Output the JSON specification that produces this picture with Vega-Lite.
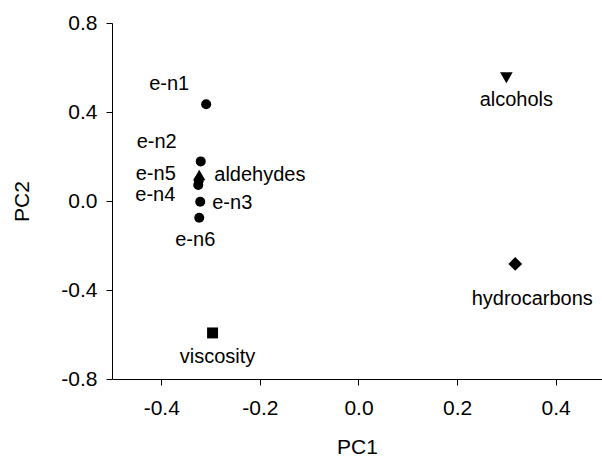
{
  "$schema": "https://vega.github.io/schema/vega-lite/v6.json",
  "width": 490,
  "height": 356,
  "autosize": {"type": "none"},
  "padding": {"left": 112, "top": 23, "right": 0, "bottom": 85},
  "background": "white",
  "config": {
    "view": {"stroke": null},
    "font": "Liberation Sans",
    "axis": {
      "grid": false,
      "domainColor": "black",
      "tickColor": "black",
      "labelColor": "black",
      "titleColor": "black",
      "labelFont": "Liberation Sans",
      "titleFont": "Liberation Sans",
      "labelFontSize": 21,
      "titleFontSize": 21,
      "titleFontWeight": "normal",
      "tickSize": 6,
      "domainWidth": 1,
      "tickWidth": 1
    }
  },
  "data": {
    "values": [
      {"label": "e-n1", "group": "e-n", "PC1": -0.309, "PC2": 0.435},
      {"label": "e-n2", "group": "e-n", "PC1": -0.320, "PC2": 0.178},
      {"label": "e-n5", "group": "e-n", "PC1": -0.324, "PC2": 0.092},
      {"label": "e-n4", "group": "e-n", "PC1": -0.325, "PC2": 0.072},
      {"label": "aldehydes", "group": "aldehydes", "PC1": -0.323, "PC2": 0.117},
      {"label": "e-n3", "group": "e-n", "PC1": -0.321, "PC2": -0.003},
      {"label": "e-n6", "group": "e-n", "PC1": -0.323, "PC2": -0.075},
      {"label": "alcohols", "group": "alcohols", "PC1": 0.300, "PC2": 0.554},
      {"label": "hydrocarbons", "group": "hydrocarbons", "PC1": 0.318, "PC2": -0.283},
      {"label": "viscosity", "group": "viscosity", "PC1": -0.296, "PC2": -0.593}
    ]
  },
  "encoding": {
    "x": {
      "field": "PC1", "type": "quantitative",
      "scale": {"domain": [-0.5, 0.494], "nice": false, "zero": false},
      "axis": {"values": [-0.4, -0.2, 0.0, 0.2, 0.4], "labelExpr": "replace(format(datum.value, '.1f'), '\u2212', '-')", "labelPadding": 12, "titlePadding": 18, "title": "PC1"}
    },
    "y": {
      "field": "PC2", "type": "quantitative",
      "scale": {"domain": [-0.8, 0.8], "nice": false, "zero": false},
      "axis": {"values": [-0.8, -0.4, 0.0, 0.4, 0.8], "labelExpr": "replace(format(datum.value, '.1f'), '\u2212', '-')", "labelPadding": 9, "titleX": -80, "titleBaseline": "bottom", "title": "PC2"}
    }
  },
  "layer": [
    {
      "mark": {"type": "point", "filled": true, "opacity": 1, "color": "black"},
      "encoding": {
        "shape": {
          "field": "group", "type": "nominal", "legend": null,
          "scale": {"domain": ["e-n", "aldehydes", "alcohols", "hydrocarbons", "viscosity"], "range": ["circle", "triangle-up", "triangle-down", "diamond", "square"]}
        },
        "size": {
          "field": "group", "type": "nominal", "legend": null,
          "scale": {"type": "ordinal", "domain": ["e-n", "aldehydes", "alcohols", "hydrocarbons", "viscosity"], "range": [100, 150, 160, 190, 120]}
        }
      }
    },
    {"transform": [{"filter": "datum.label == 'e-n1'"}], "mark": {"type": "text", "fontSize": 20, "color": "black", "align": "center", "baseline": "middle", "dx": -37, "dy": -20}, "encoding": {"text": {"field": "label"}}},
    {"transform": [{"filter": "datum.label == 'e-n2'"}], "mark": {"type": "text", "fontSize": 20, "color": "black", "align": "center", "baseline": "middle", "dx": -44, "dy": -19}, "encoding": {"text": {"field": "label"}}},
    {"transform": [{"filter": "datum.label == 'e-n5'"}], "mark": {"type": "text", "fontSize": 20, "color": "black", "align": "center", "baseline": "middle", "dx": -43, "dy": -7}, "encoding": {"text": {"field": "label"}}},
    {"transform": [{"filter": "datum.label == 'e-n4'"}], "mark": {"type": "text", "fontSize": 20, "color": "black", "align": "center", "baseline": "middle", "dx": -43, "dy": 10}, "encoding": {"text": {"field": "label"}}},
    {"transform": [{"filter": "datum.label == 'aldehydes'"}], "mark": {"type": "text", "fontSize": 20, "color": "black", "align": "left", "baseline": "middle", "dx": 15, "dy": 0}, "encoding": {"text": {"field": "label"}}},
    {"transform": [{"filter": "datum.label == 'e-n3'"}], "mark": {"type": "text", "fontSize": 20, "color": "black", "align": "left", "baseline": "middle", "dx": 12, "dy": 1}, "encoding": {"text": {"field": "label"}}},
    {"transform": [{"filter": "datum.label == 'e-n6'"}], "mark": {"type": "text", "fontSize": 20, "color": "black", "align": "center", "baseline": "middle", "dx": -4, "dy": 22}, "encoding": {"text": {"field": "label"}}},
    {"transform": [{"filter": "datum.label == 'alcohols'"}], "mark": {"type": "text", "fontSize": 20, "color": "black", "align": "center", "baseline": "middle", "dx": 10, "dy": 22}, "encoding": {"text": {"field": "label"}}},
    {"transform": [{"filter": "datum.label == 'hydrocarbons'"}], "mark": {"type": "text", "fontSize": 20, "color": "black", "align": "center", "baseline": "middle", "dx": 17, "dy": 35}, "encoding": {"text": {"field": "label"}}},
    {"transform": [{"filter": "datum.label == 'viscosity'"}], "mark": {"type": "text", "fontSize": 20, "color": "black", "align": "center", "baseline": "middle", "dx": 5, "dy": 24}, "encoding": {"text": {"field": "label"}}}
  ]
}
